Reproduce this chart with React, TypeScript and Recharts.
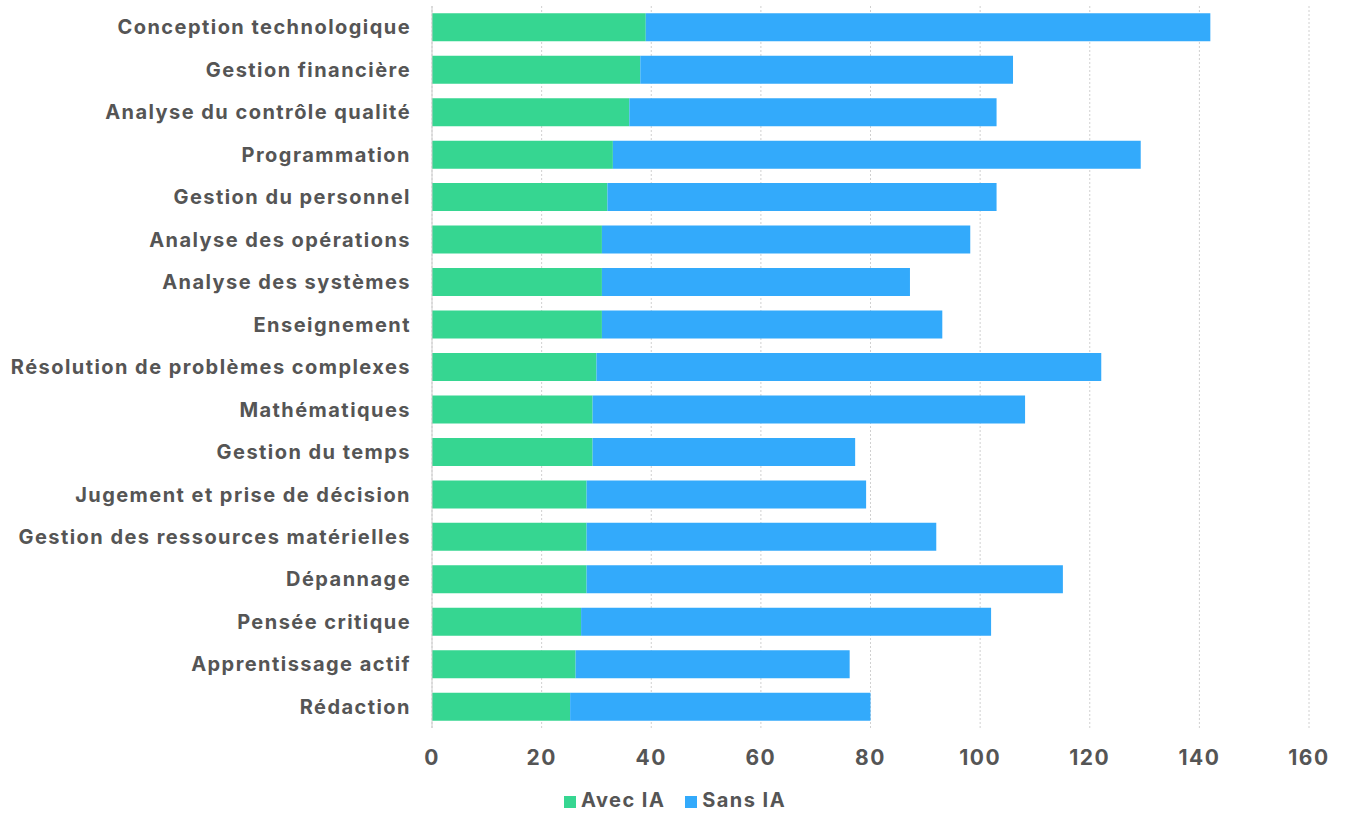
import React from 'react';
import { BarChart, Bar, XAxis, YAxis, CartesianGrid, Legend } from 'recharts';

const categories = [
  'Conception technologique',
  'Gestion financière',
  'Analyse du contrôle qualité',
  'Programmation',
  'Gestion du personnel',
  'Analyse des opérations',
  'Analyse des systèmes',
  'Enseignement',
  'Résolution de problèmes complexes',
  'Mathématiques',
  'Gestion du temps',
  'Jugement et prise de décision',
  'Gestion des ressources matérielles',
  'Dépannage',
  'Pensée critique',
  'Apprentissage actif',
  'Rédaction',
];

const avecIA = [39, 38, 36, 33, 32, 31, 31, 31, 30, 29.3, 29.3, 28.2, 28.2, 28.2, 27.2, 26.2, 25.2];
const sansIA = [103, 68, 67, 96.3, 71, 67.2, 56.2, 62.1, 92.1, 78.9, 47.9, 51, 63.8, 86.9, 74.8, 50, 54.8];

const xTicks = [0, 20, 40, 60, 80, 100, 120, 140, 160];

const data = categories.map((name, i) => ({ name, avec: avecIA[i], sans: sansIA[i] }));

const FONT = 'Inter, "Noto Sans", sans-serif';
const TEXT = '#555555';

export default function App() {
  return (
    <div style={{ position: 'absolute', left: 0, top: 0, background: '#fff' }}>
      <BarChart
        width={1346}
        height={814}
        data={data}
        layout="vertical"
        margin={{ top: 6, right: 37, left: 0, bottom: 4 }}
        barCategoryGap="17%"
      >
        <CartesianGrid horizontal={false} stroke="#d0d0d0" strokeDasharray="2 2" />
        <XAxis
          type="number"
          domain={[0, 160]}
          ticks={xTicks}
          axisLine={false}
          tickLine={false}
          tickSize={0}
          tickMargin={22}
          height={52}
          tick={{ fill: TEXT, fontSize: 21, fontWeight: 700, fontFamily: FONT, letterSpacing: 1.5 }}
        />
        <YAxis
          type="category"
          dataKey="name"
          width={432}
          axisLine={{ stroke: '#cccccc' }}
          tickLine={false}
          tickSize={0}
          tickMargin={21}
          interval={0}
          tick={{ fill: TEXT, fontSize: 20, fontWeight: 700, fontFamily: FONT, letterSpacing: 1.45 }}
        />
        <Legend
          verticalAlign="bottom"
          iconType="square"
          iconSize={12}
          height={30}
          wrapperStyle={{
            fontFamily: FONT,
            fontSize: 20,
            fontWeight: 700,
            letterSpacing: 1.45,
            left: 7,
            width: 1346,
            top: 788,
            bottom: 'auto',
          }}
          formatter={(v, _e, i) => (
            <span style={{ color: TEXT, marginLeft: 1, marginRight: i === 0 ? 10 : 0 }}>{v}</span>
          )}
        />
        <Bar dataKey="avec" name="Avec IA" stackId="a" fill="#36D691" isAnimationActive={false} />
        <Bar dataKey="sans" name="Sans IA" stackId="a" fill="#33AAFB" isAnimationActive={false} />
      </BarChart>
    </div>
  );
}
